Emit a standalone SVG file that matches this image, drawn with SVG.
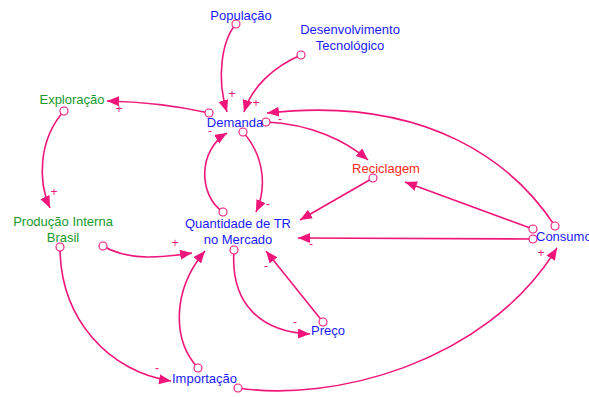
<svg xmlns="http://www.w3.org/2000/svg" width="589" height="397" viewBox="0 0 589 397">
<style>
text{font-family:"Liberation Sans",Arial,sans-serif;font-size:13px}
.b{fill:#1a1aff}.g{fill:#179a2a}.r{fill:#ff2a1a}
.s{fill:#f0157a;font-size:12px}
.l{fill:none;stroke:#f0157a;stroke-width:1.6;marker-end:url(#a)}
.o{fill:#fff;stroke:#f0157a;stroke-width:1.1}
</style>
<defs>
<marker id="a" markerUnits="userSpaceOnUse" markerWidth="14" markerHeight="12" refX="12" refY="5" orient="auto">
<path d="M0,0 L12,5 L0,10 Z" fill="#f0157a"/>
</marker>
</defs>
<g id="connectors">
<path class="l" d="M236,24 C222,40 216,78 227,112"/>
<path class="l" d="M301,55 C275,66 252,86 244,112"/>
<path class="l" d="M209,113 Q160,102 107,101"/>
<path class="l" d="M64,111 C38,140 38,182 50,208"/>
<path class="l" d="M103,246 C130,262 165,257 192,253"/>
<path class="l" d="M243,132 C266,158 266,190 256,212"/>
<path class="l" d="M223,212 C198,195 198,150 227,133"/>
<path class="l" d="M266,122 C310,124 345,140 368,160"/>
<path class="l" d="M555,226 C515,165 430,95 267,113"/>
<path class="l" d="M373,178 L300,220"/>
<path class="l" d="M533,229 L405,182"/>
<path class="l" d="M533,239 L298,238"/>
<path class="l" d="M234,250 C230,305 262,332 310,334"/>
<path class="l" d="M323,322 L266,251"/>
<path class="l" d="M198,368 C172,340 172,290 205,251"/>
<path class="l" d="M60,247 C60,320 110,372 171,381"/>
<path class="l" d="M238,388 C330,402 485,365 557,248"/>
<circle class="o" cx="236" cy="24" r="4"/>
<circle class="o" cx="301" cy="55" r="4"/>
<circle class="o" cx="209" cy="113" r="4"/>
<circle class="o" cx="64" cy="111" r="4"/>
<circle class="o" cx="103" cy="246" r="4"/>
<circle class="o" cx="243" cy="132" r="4"/>
<circle class="o" cx="223" cy="212" r="4"/>
<circle class="o" cx="266" cy="122" r="4"/>
<circle class="o" cx="555" cy="226" r="4"/>
<circle class="o" cx="373" cy="178" r="4"/>
<circle class="o" cx="533" cy="229" r="4"/>
<circle class="o" cx="533" cy="239" r="4"/>
<circle class="o" cx="234" cy="250" r="4"/>
<circle class="o" cx="323" cy="322" r="4"/>
<circle class="o" cx="198" cy="368" r="4"/>
<circle class="o" cx="60" cy="247" r="4"/>
<circle class="o" cx="238" cy="388" r="4"/>
<text class="s" x="232" y="98" text-anchor="middle">+</text>
<text class="s" x="256" y="107" text-anchor="middle">+</text>
<text class="s" x="210" y="135" text-anchor="middle">-</text>
<text class="s" x="280" y="123" text-anchor="middle">-</text>
<text class="s" x="119" y="113" text-anchor="middle">+</text>
<text class="s" x="54" y="196" text-anchor="middle">+</text>
<text class="s" x="175" y="247" text-anchor="middle">+</text>
<text class="s" x="268" y="208" text-anchor="middle">-</text>
<text class="s" x="311" y="248" text-anchor="middle">-</text>
<text class="s" x="266" y="270" text-anchor="middle">-</text>
<text class="s" x="295" y="326" text-anchor="middle">-</text>
<text class="s" x="157" y="372" text-anchor="middle">-</text>
<text class="s" x="541" y="257" text-anchor="middle">+</text>
</g>
<g id="populacao"><text class="b" x="241" y="20" text-anchor="middle">População</text></g>
<g id="desenvolvimento"><text class="b" x="350" y="34" text-anchor="middle">Desenvolvimento</text><text class="b" x="350" y="50" text-anchor="middle">Tecnológico</text></g>
<g id="exploracao"><text class="g" x="72" y="104" text-anchor="middle">Exploração</text></g>
<g id="demanda"><text class="b" x="235" y="127" text-anchor="middle">Demanda</text></g>
<g id="reciclagem"><text class="r" x="386" y="173" text-anchor="middle">Reciclagem</text></g>
<g id="producao"><text class="g" x="63" y="226" text-anchor="middle">Produção Interna</text><text class="g" x="63" y="242" text-anchor="middle">Brasil</text></g>
<g id="quantidade"><text class="b" x="238" y="228" text-anchor="middle">Quantidade de TR</text><text class="b" x="238" y="244" text-anchor="middle">no Mercado</text></g>
<g id="consumo"><text class="b" x="536" y="241">Consumo</text></g>
<g id="preco"><text class="b" x="311" y="335">Preço</text></g>
<g id="importacao"><text class="b" x="172" y="383">Importação</text></g>
</svg>
